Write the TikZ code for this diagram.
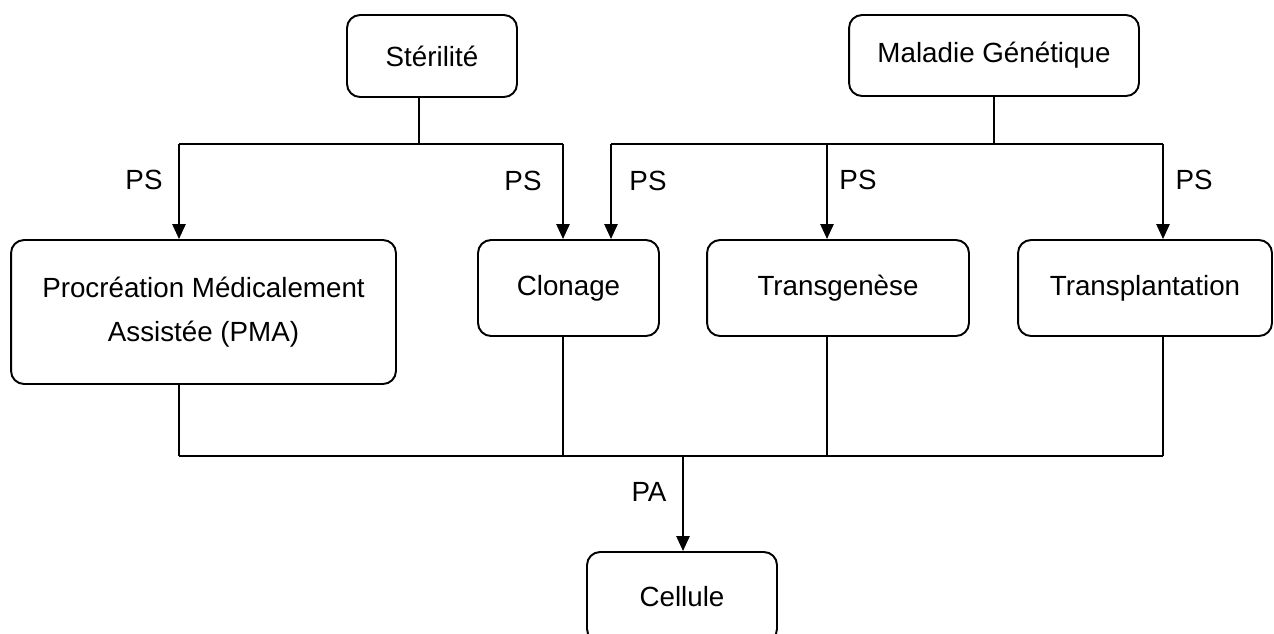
\documentclass[tikz,border=0pt]{standalone}
\usepackage{fontspec}
\setmainfont{Liberation Sans}
\usepackage{tikz}
\usetikzlibrary{calc, arrows.meta}
\tikzstyle{arrondi} = [rectangle, rounded corners=0.26cm, draw=black, line width=1.1pt, align=center, font=\fontsize{15.8}{25}\selectfont]
\tikzstyle{etiquette} = [font=\fontsize{15.8}{19}\selectfont]

\begin{document}
\begin{tikzpicture}[x=0.02cm, y=-0.02cm, line width=1.1pt, >={Triangle[length=8.5pt,width=7.5pt]}]

        \useasboundingbox (0,0) rectangle (1274,633);

        \node (ster) [arrondi, minimum width=3.4cm, minimum height=1.64cm] at (432,56) {Stérilité};
        \node (malad) [arrondi, minimum width=5.8cm, minimum height=1.62cm] at (994,55.5) {Maladie Génétique};

        \node (pma) [arrondi, minimum width=7.7cm, minimum height=2.88cm] at (203.5,312) {Procréation Médicalement\\Assistée (PMA)};
        \node (clon) [arrondi, minimum width=3.62cm, minimum height=1.92cm] at (568.5,288) {Clonage};
        \node (transg) [arrondi, minimum width=5.24cm, minimum height=1.92cm] at (838,288) {Transgenèse};
        \node (transp) [arrondi, minimum width=5.08cm, minimum height=1.92cm] at (1145,288) {Transplantation};

        \node (cell) [arrondi, minimum width=3.8cm, minimum height=1.8cm] at (682,597) {Cellule};

        % points de jonction
        \coordinate (sj) at (419,144);
        \coordinate (s1) at (179,144);
        \coordinate (s2) at (563,144);
        \coordinate (mj) at (994,144);
        \coordinate (m1) at (611,144);
        \coordinate (m2) at (827,144);
        \coordinate (m3) at (1163,144);
        \coordinate (bj) at (683,456);
        \coordinate (b1) at (179,456);
        \coordinate (b2) at (563,456);
        \coordinate (b3) at (827,456);
        \coordinate (b4) at (1163,456);

        \draw (ster.south -| sj) -- (sj);
        \draw (s1) -- (s2);
        \draw[->] (s1) -- (pma.north -| s1);
        \draw[->] (s2) -- (clon.north -| s2);

        \draw (malad.south) -- (mj);
        \draw (m1) -- (m3);
        \draw[->] (m1) -- (clon.north -| m1);
        \draw[->] (m2) -- (transg.north -| m2);
        \draw[->] (m3) -- (transp.north -| m3);

        \draw (pma.south -| b1) -- (b1);
        \draw (clon.south -| b2) -- (b2);
        \draw (transg.south -| b3) -- (b3);
        \draw (transp.south -| b4) -- (b4);
        \draw (b1) -- (b4);
        \draw[->] (bj) -- (cell.north -| bj);

        \node (ps1) [etiquette] at (144,180) {PS};
        \node (ps2) [etiquette] at (523,181) {PS};
        \node (ps3) [etiquette] at (648,181) {PS};
        \node (ps4) [etiquette] at (858,180) {PS};
        \node (ps5) [etiquette] at (1194,180) {PS};
        \node (pa) [etiquette] at (649,492) {PA};

    \end{tikzpicture}
\end{document}
